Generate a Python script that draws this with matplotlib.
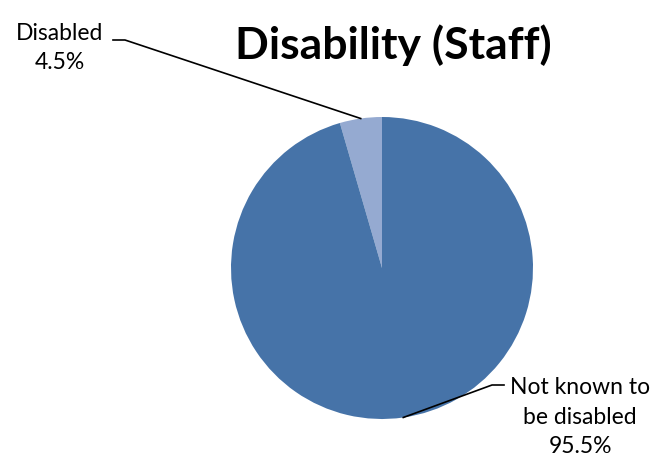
import numpy as np
import matplotlib.pyplot as plt
from matplotlib.lines import Line2D

labels = ["Disabled", "Not known to\nbe disabled"]
shares = [4.5, 95.5]
colors = ["#95AAD1", "#4673A8"]

W, H = 659, 463
fig = plt.figure(figsize=(W / 100, H / 100), dpi=100)
plt.rcParams['font.family'] = ['Lato', 'DejaVu Sans']

# pie axes: centre (382, 268), radius 151 px
cx, cy, r = 382, 268, 151
ax = fig.add_axes([(cx - r) / W, (H - cy - r) / H, 2 * r / W, 2 * r / H])
wedges, _ = ax.pie(shares, colors=colors, startangle=90, counterclock=True,
                   radius=1.0, wedgeprops=dict(linewidth=0))
ax.set_xlim(-1, 1)
ax.set_ylim(-1, 1)
ax.set_aspect('equal')
ax.axis('off')

fig.text(393 / W, 1 - 45 / H, "Disability (Staff)", ha='center', va='center',
         fontsize=32, fontweight='bold')


def px(x, y):
    return x / W, 1 - y / H


# label text positions and leader elbows in pixels
label_pos = [(60, 48), (580, 417)]
elbows = [[(113, 40), (125, 40)], [(504, 385), (492, 385)]]

for w, lab, val, (tx, ty), elb in zip(wedges, labels, shares, label_pos, elbows):
    mid = np.deg2rad((w.theta1 + w.theta2) / 2)
    p = ax.transData.transform((np.cos(mid), np.sin(mid)))
    end = (p[0], H - p[1])
    pts = elb + [end]
    xs = [q[0] / W for q in pts]
    ys = [1 - q[1] / H for q in pts]
    fig.add_artist(Line2D(xs, ys, transform=fig.transFigure, color='black', lw=1.2))
    fig.text(*px(tx, ty), f"{lab}\n{val}%", ha='center', va='center',
             fontsize=16.5, linespacing=1.5)

fig.savefig("out.png", dpi=100)
